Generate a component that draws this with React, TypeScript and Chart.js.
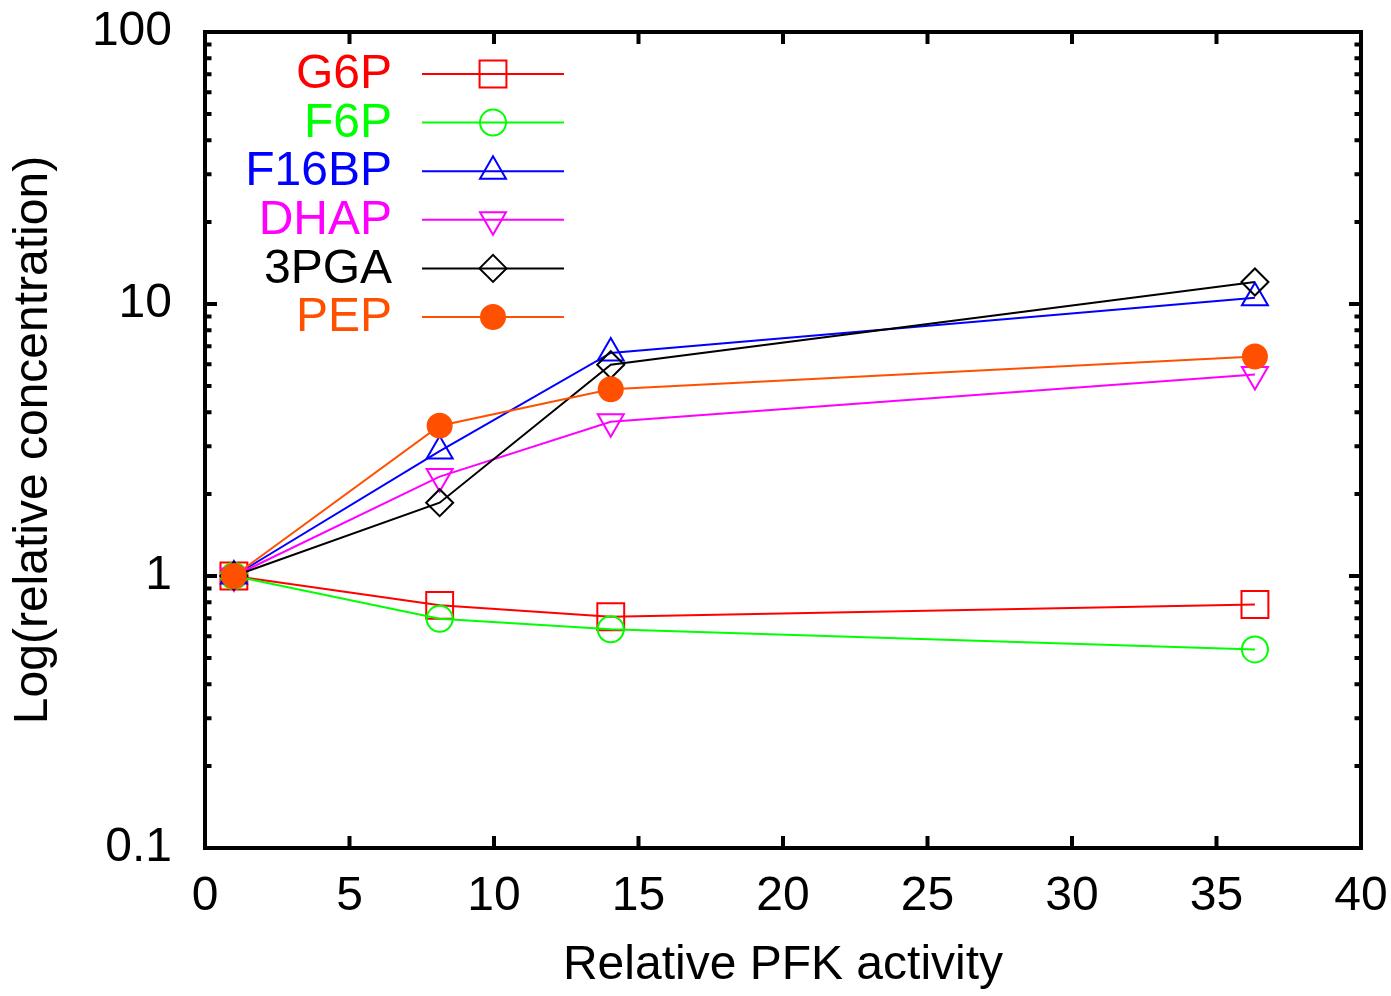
import React, { useEffect, useRef } from 'react';
import { Chart, registerables } from 'chart.js';

Chart.register(...registerables);

// ---- data ----
const pfkActivity = [1, 8.12, 14.04, 36.33];
const seriesNames = ['G6P', 'F6P', 'F16BP', 'DHAP', '3PGA', 'PEP'];
const g6p = [1, 0.78, 0.708, 0.786];
const f6p = [1, 0.696, 0.637, 0.537];
const f16bp = [1, 2.88, 6.61, 10.55];
const dhap = [1, 2.32, 3.69, 5.51];
const pga3 = [1, 1.86, 5.98, 12.05];
const pep = [1, 3.57, 4.86, 6.41];
const seriesValues = [g6p, f6p, f16bp, dhap, pga3, pep];
const xTickValues = [0, 5, 10, 15, 20, 25, 30, 35, 40];
const yTickValues = [0.1, 1, 10, 100];

// ---- styles ----
const colors = ['#ff0000', '#00ff00', '#0000ff', '#ff00ff', '#000000', '#ff5000'];
const pointStyles = ['rect', 'circle', 'triangle', 'triangle', 'rectRot', 'circle'];
const pointRadii = [19, 13, 15, 15, 13.5, 12];
const pointRotations = [0, 0, 0, 180, 0, 0];
const pointFilled = [false, false, false, false, false, true];

const FAMILY = "'Liberation Sans', Arial, Helvetica, sans-serif";
const FONT_SIZE = 48;

function drawMarker(c: CanvasRenderingContext2D, i: number, x: number, y: number) {
  const r = pointRadii[i];
  const style = pointStyles[i];
  const rot = (pointRotations[i] * Math.PI) / 180;
  c.save();
  c.lineWidth = 2;
  c.strokeStyle = colors[i];
  c.fillStyle = colors[i];
  c.beginPath();
  if (style === 'rect') {
    const s = Math.SQRT1_2 * r;
    c.rect(x - s, y - s, 2 * s, 2 * s);
  } else if (style === 'circle') {
    c.arc(x, y, r, 0, Math.PI * 2);
  } else if (style === 'triangle') {
    let a = rot;
    c.moveTo(x + Math.sin(a) * r, y - Math.cos(a) * r);
    a += (2 * Math.PI) / 3;
    c.lineTo(x + Math.sin(a) * r, y - Math.cos(a) * r);
    a += (2 * Math.PI) / 3;
    c.lineTo(x + Math.sin(a) * r, y - Math.cos(a) * r);
    c.closePath();
  } else if (style === 'rectRot') {
    c.moveTo(x - r, y);
    c.lineTo(x, y - r);
    c.lineTo(x + r, y);
    c.lineTo(x, y + r);
    c.closePath();
  }
  if (pointFilled[i]) c.fill();
  c.stroke();
  c.restore();
}

const framePlugin = {
  id: 'gnuplotFrame',
  beforeDatasetsDraw(chart: any) {
    const c: CanvasRenderingContext2D = chart.ctx;
    const { left, right, top, bottom } = chart.chartArea;
    const xs = chart.scales.x;
    const ys = chart.scales.y;
    c.save();
    c.strokeStyle = '#000';
    c.lineWidth = 4;
    c.lineCap = 'butt';
    c.beginPath();
    xTickValues.forEach((v) => {
      const px = xs.getPixelForValue(v);
      if (px <= left + 1 || px >= right - 1) return;
      c.moveTo(px, bottom);
      c.lineTo(px, bottom - 12);
      c.moveTo(px, top);
      c.lineTo(px, top + 12);
    });
    for (let d = 0; d < yTickValues.length; d++) {
      const base = yTickValues[d];
      const py = ys.getPixelForValue(base);
      if (py > top + 1 && py < bottom - 1) {
        c.moveTo(left, py);
        c.lineTo(left + 12, py);
        c.moveTo(right, py);
        c.lineTo(right - 12, py);
      }
      if (d < yTickValues.length - 1) {
        for (let m = 2; m <= 9; m++) {
          const pm = ys.getPixelForValue(base * m);
          c.moveTo(left, pm);
          c.lineTo(left + 6.5, pm);
          c.moveTo(right, pm);
          c.lineTo(right - 6.5, pm);
        }
      }
    }
    c.stroke();
    c.lineJoin = 'miter';
    c.strokeRect(left, top, right - left, bottom - top);
    c.restore();
  },
};

const legendPlugin = {
  id: 'gnuplotLegend',
  afterDatasetsDraw(chart: any) {
    const c: CanvasRenderingContext2D = chart.ctx;
    c.save();
    seriesNames.forEach((name, i) => {
      const y = 74 + i * 48.6;
      c.font = `${FONT_SIZE}px ${FAMILY}`;
      c.fillStyle = colors[i];
      c.textAlign = 'right';
      c.textBaseline = 'middle';
      c.fillText(name, 392, y + 1);
      c.strokeStyle = colors[i];
      c.lineWidth = 2;
      c.beginPath();
      c.moveTo(422, y);
      c.lineTo(564, y);
      c.stroke();
      drawMarker(c, i, 493, y);
    });
    c.restore();
  },
};

function clearScalePadding(s: any) {
  s.paddingTop = 0;
  s.paddingBottom = 0;
  s.paddingLeft = 0;
  s.paddingRight = 0;
}

export default function App() {
  const ref = useRef<HTMLCanvasElement>(null);

  useEffect(() => {
    if (!ref.current) return;
    const font = { family: FAMILY, size: FONT_SIZE };
    const datasets = seriesValues.map((vals, i) => ({
      label: seriesNames[i],
      data: pfkActivity.map((x, j) => ({ x, y: vals[j] })),
      borderColor: colors[i],
      backgroundColor: colors[i],
      borderWidth: 2,
      pointStyle: pointStyles[i],
      pointRadius: pointRadii[i],
      pointHoverRadius: pointRadii[i],
      pointRotation: pointRotations[i],
      pointBorderWidth: 2,
      pointBorderColor: colors[i],
      pointBackgroundColor: pointFilled[i] ? colors[i] : 'rgba(0,0,0,0)',
      tension: 0,
      fill: false,
      order: seriesNames.length - i,
    }));

    const chart = new Chart(ref.current, {
      type: 'line',
      data: { datasets },
      options: {
        animation: false,
        responsive: false,
        events: [],
        layout: { padding: { top: 32, right: 30, left: 0, bottom: 0 } },
        plugins: {
          legend: { display: false },
          tooltip: { enabled: false },
        },
        scales: {
          x: {
            type: 'linear',
            min: 0,
            max: 40,
            afterBuildTicks: (s: any) => {
              s.ticks = xTickValues.map((v) => ({ value: v }));
            },
            ticks: {
              color: '#000',
              font,
              padding: 20,
              autoSkip: false,
              maxRotation: 0,
              callback: (v: any) => String(v),
            },
            grid: { display: false, drawTicks: false },
            border: { display: false },
            title: {
              display: true,
              text: 'Relative PFK activity',
              color: '#000',
              font,
              padding: { top: 0, bottom: 1 },
            },
            afterFit: (s: any) => {
              s.height = 148;
              clearScalePadding(s);
            },
          },
          y: {
            type: 'logarithmic',
            min: 0.1,
            max: 100,
            afterBuildTicks: (s: any) => {
              s.ticks = yTickValues.map((v) => ({ value: v }));
            },
            ticks: {
              color: '#000',
              font,
              padding: 33,
              autoSkip: false,
              callback: (v: any) => String(v),
            },
            grid: { display: false, drawTicks: false },
            border: { display: false },
            title: {
              display: true,
              text: 'Log(relative concentration)',
              color: '#000',
              font,
              padding: { top: 5, bottom: 0 },
            },
            afterFit: (s: any) => {
              s.width = 205;
              clearScalePadding(s);
            },
          },
        },
      },
      plugins: [framePlugin, legendPlugin],
    } as any);

    return () => chart.destroy();
  }, []);

  return (
    <div style={{ position: 'absolute', left: 0, top: 0, width: 1391, height: 996, background: '#fff' }}>
      <canvas ref={ref} width={1391} height={996} style={{ display: 'block', width: 1391, height: 996 }} />
    </div>
  );
}
